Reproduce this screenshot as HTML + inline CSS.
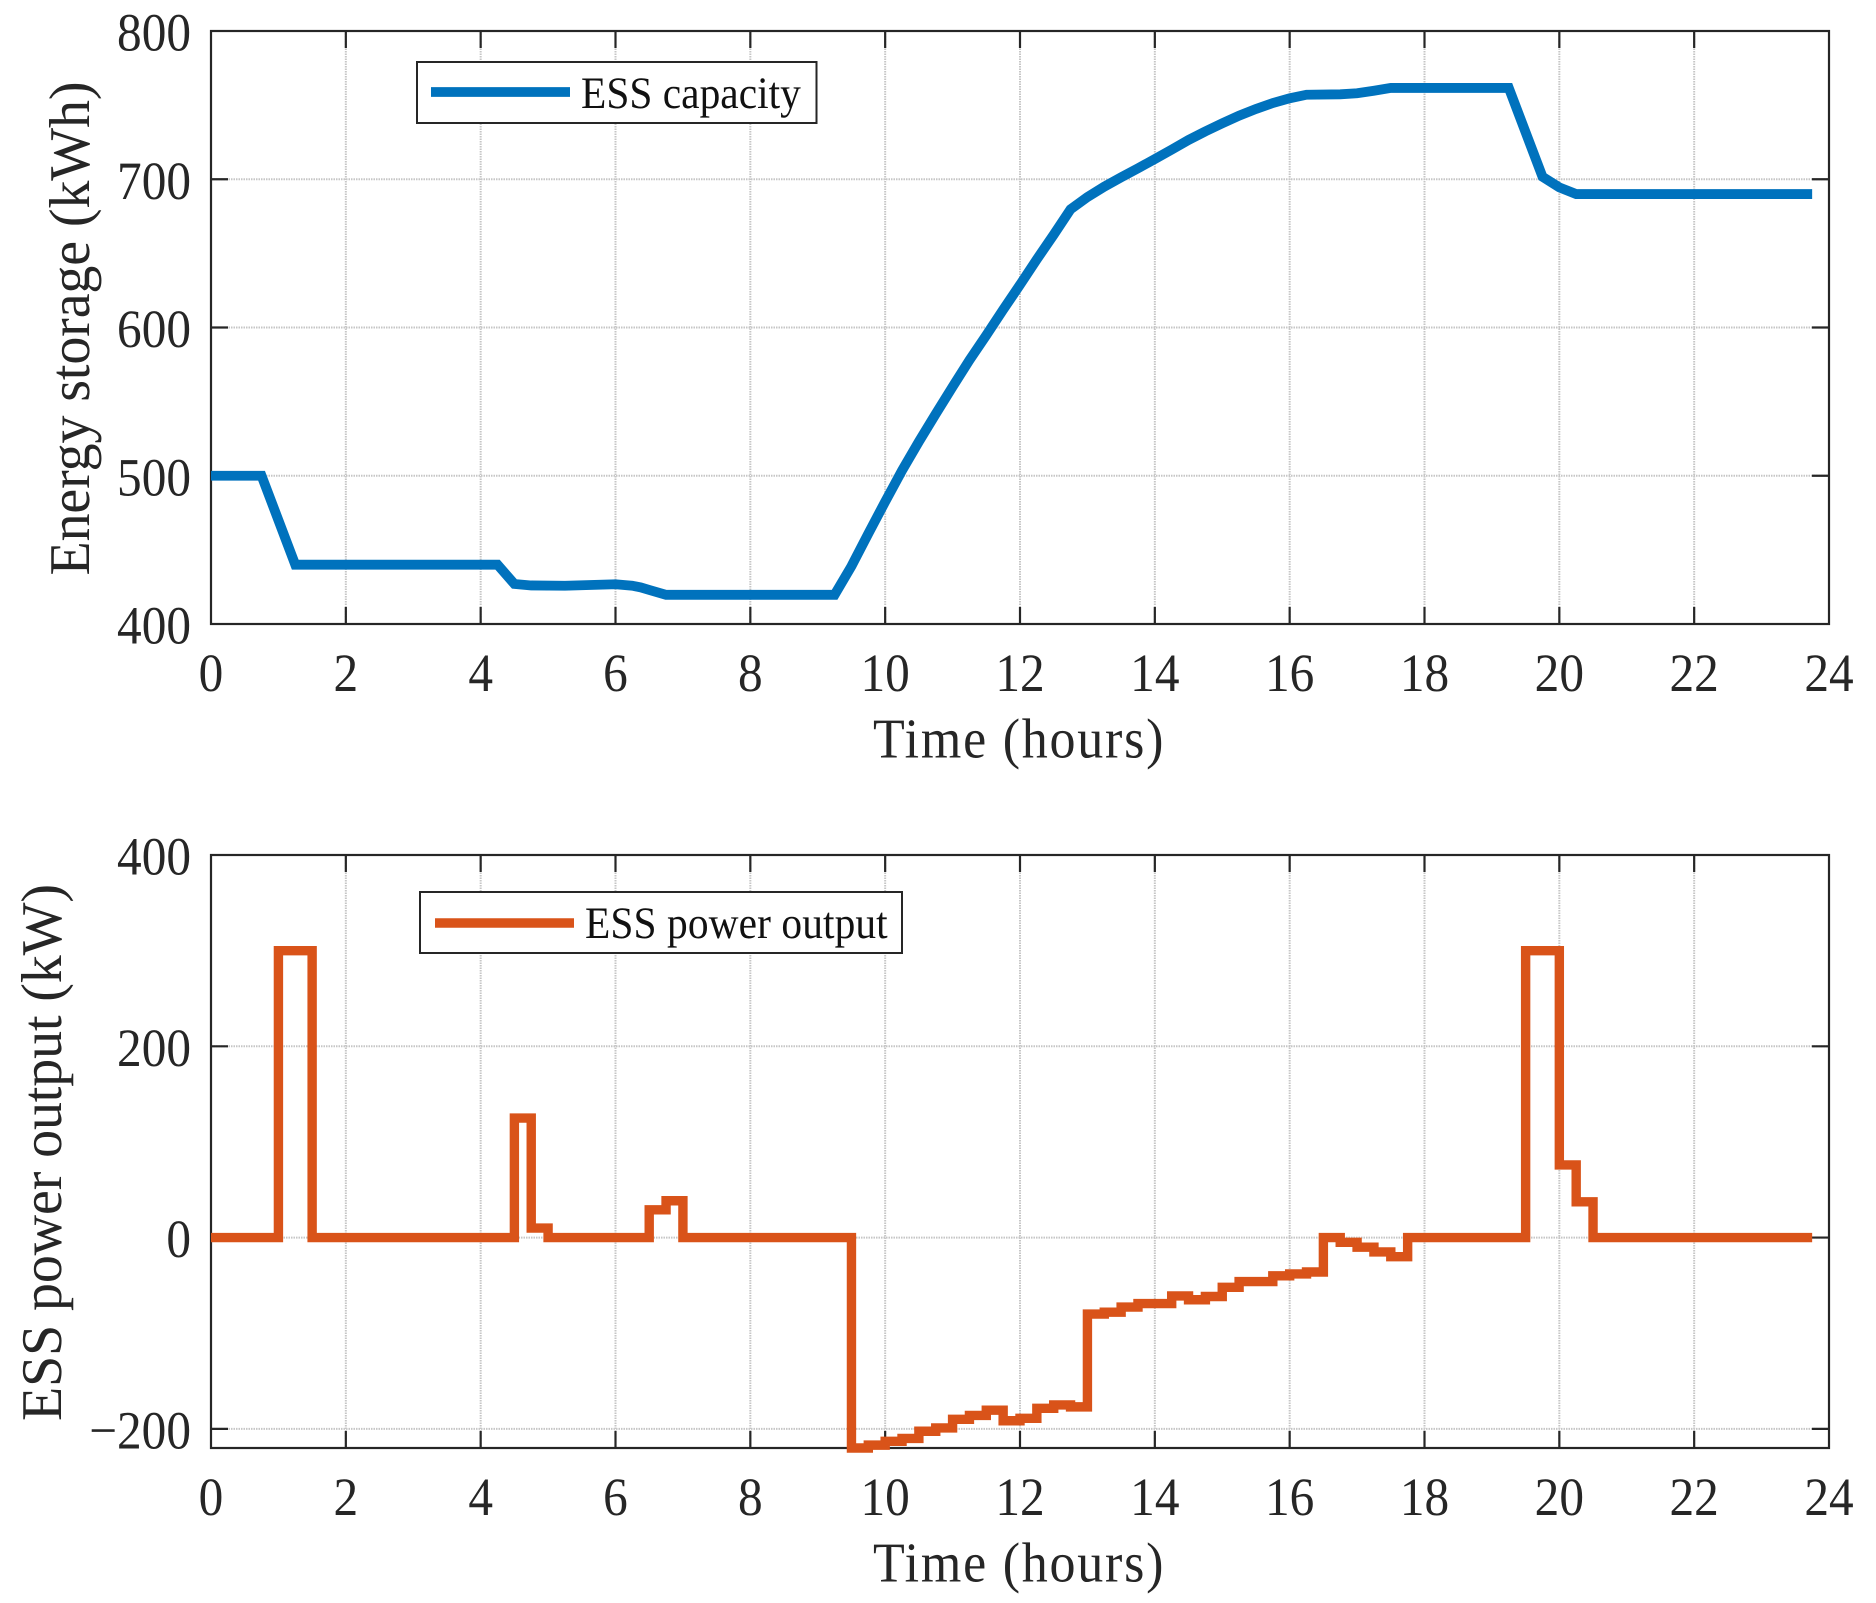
<!DOCTYPE html>
<html lang="en">
<head>
<meta charset="utf-8">
<title>ESS capacity and power output</title>
<style>
html,body{margin:0;padding:0;background:#fff;width:1876px;height:1603px;overflow:hidden}
svg{display:block}
text{font-family:"Liberation Serif",serif;fill:#262626;text-rendering:geometricPrecision}
.tick{font-size:54px}
.title{font-size:56.4px}
.ylab{font-size:56px}
.leg{font-size:45px;fill:#111}
</style>
</head>
<body>
<svg id="figure" xmlns="http://www.w3.org/2000/svg" width="1876" height="1603" viewBox="0 0 1876 1603">
  <rect x="0" y="0" width="1876" height="1603" fill="#fff"/>

  <g id="top-chart">
    <g id="top-grid"></g>
    <g id="top-ticks"></g>
    <rect x="211" y="31" width="1618" height="593" fill="none" stroke="#262626" stroke-width="2.2"/>
    <polyline id="capacity-line" fill="none" stroke="#0072BD" stroke-width="9.8" stroke-linejoin="miter"/>
    <text class="title" transform="translate(873 757.5) scale(0.922 1)" textLength="315" lengthAdjust="spacing">Time (hours)</text>
    <text class="ylab" transform="translate(89 575.5) rotate(-90) scale(1 1.03)" textLength="494" lengthAdjust="spacing">Energy storage (kWh)</text>
    <g>
      <rect x="417" y="62" width="399.5" height="61" fill="#fff" stroke="#262626" stroke-width="2"/>
      <line x1="431" y1="92" x2="570" y2="92" stroke="#0072BD" stroke-width="9.8"/>
      <text class="leg" transform="translate(581 108) scale(0.92 1)" textLength="239" lengthAdjust="spacing">ESS capacity</text>
    </g>
  </g>

  <g id="bottom-chart">
    <g id="bottom-grid"></g>
    <g id="bottom-ticks"></g>
    <rect x="211" y="855" width="1618" height="593" fill="none" stroke="#262626" stroke-width="2.2"/>
    <polyline id="power-line" fill="none" stroke="#D95319" stroke-width="9.4" stroke-linejoin="miter"/>
    <text class="title" transform="translate(873 1581.5) scale(0.922 1)" textLength="315" lengthAdjust="spacing">Time (hours)</text>
    <text class="ylab" transform="translate(61 1421) rotate(-90) scale(1 1.03)" textLength="537" lengthAdjust="spacing">ESS power output (kW)</text>
    <g>
      <rect x="420" y="892" width="482" height="61" fill="#fff" stroke="#262626" stroke-width="2"/>
      <line x1="435" y1="923" x2="574" y2="923" stroke="#D95319" stroke-width="9.4"/>
      <text class="leg" transform="translate(585 938) scale(0.92 1)" textLength="329" lengthAdjust="spacing">ESS power output</text>
    </g>
  </g>
</svg>

<script>
// Shared x axis ticks
var hourTicks = [0, 2, 4, 6, 8, 10, 12, 14, 16, 18, 20, 22, 24];

// Top chart: energy storage (kWh)
var energyTicks = [400, 500, 600, 700, 800];
var energyTickLabels = ["400", "500", "600", "700", "800"];
var capacityHours = [0, 0.75, 1.25, 4.25, 4.5, 4.75, 5.25, 6, 6.25, 6.375, 6.5, 6.75, 9.25, 9.5, 9.75, 10, 10.25, 10.5, 10.75, 11, 11.25, 11.5, 11.75, 12, 12.25, 12.5, 12.75, 13, 13.25, 13.5, 13.75, 14, 14.25, 14.5, 14.75, 15, 15.25, 15.5, 15.75, 16, 16.25, 16.75, 17, 17.25, 17.5, 19.25, 19.75, 20, 20.25, 23.75];
var capacityValues = [500, 500, 440, 440, 427, 426, 425.8, 426.8, 425.8, 424.7, 423, 419.7, 419.7, 439, 461, 482.5, 503.5, 523, 541.7, 560, 578, 594.8, 612, 628.8, 646, 662.6, 679.7, 688, 695, 701.3, 707.4, 713.6, 720, 726.5, 732.3, 737.7, 742.9, 747.4, 751.4, 754.6, 757, 757.3, 758, 759.7, 761.6, 761.6, 701.7, 694.5, 690, 690];

// Bottom chart: ESS power output (kW), each value holds from its start hour to the next one
var powerTicks = [-200, 0, 200, 400];
var powerTickLabels = ["\u2212200", "0", "200", "400"];
var powerStartHours = [0, 1, 1.5, 4.5, 4.75, 5, 6.5, 6.75, 7, 9.5, 9.75, 10, 10.25, 10.5, 10.75, 11, 11.25, 11.5, 11.75, 12, 12.25, 12.5, 12.75, 13, 13.25, 13.5, 13.75, 14, 14.25, 14.5, 14.75, 15, 15.25, 15.5, 15.75, 16, 16.25, 16.5, 16.75, 17, 17.25, 17.5, 17.75, 19.5, 20, 20.25, 20.5, 23.75];
var powerValues = [0, 300, 0, 125, 10, 0, 29, 38.5, 0, -220, -217, -213, -210, -202.5, -199, -190, -186, -180.5, -191.5, -189, -178.5, -175, -177, -80, -78, -72.7, -69, -69, -61, -65, -61.6, -52, -46, -46, -40, -38, -36, 0, -5, -10, -15, -20, 0, 300, 76, 37.4, 0, 0];

var SVG_NS = "http://www.w3.org/2000/svg";

function scaleX(hour) {
  return 211 + (hour / 24) * 1618;
}
function scaleEnergy(v) {
  return 624 - ((v - 400) / 400) * 593;
}
function scalePower(v) {
  return 1448 - ((v + 220) / 620) * 593;
}

function addLine(parent, x1, y1, x2, y2, stroke, width, dash) {
  var el = document.createElementNS(SVG_NS, "line");
  el.setAttribute("x1", x1);
  el.setAttribute("y1", y1);
  el.setAttribute("x2", x2);
  el.setAttribute("y2", y2);
  el.setAttribute("stroke", stroke);
  el.setAttribute("stroke-width", width);
  if (dash) el.setAttribute("stroke-dasharray", dash);
  parent.appendChild(el);
  return el;
}

function addText(parent, x, y, anchor, content) {
  var el = document.createElementNS(SVG_NS, "text");
  el.setAttribute("transform", "translate(" + x + " " + y + ") scale(0.913 1)");
  el.setAttribute("text-anchor", anchor);
  el.setAttribute("class", "tick");
  el.textContent = content;
  parent.appendChild(el);
  return el;
}

function drawAxes(gridId, ticksId, top, bottom, yTicks, yLabels, yScale, xLabelBaseline) {
  var grid = document.getElementById(gridId);
  var ticks = document.getElementById(ticksId);
  var left = 211, right = 1829, tickLen = 17;

  hourTicks.forEach(function (h) {
    var x = scaleX(h);
    if (h > 0 && h < 24) {
      var gx = addLine(grid, x, top, x, bottom, "#c6c6c6", 2, "1.5 1");
      
      
      var t1 = addLine(ticks, x, bottom, x, bottom - tickLen, "#262626", 2.2);
      
      
      var t2 = addLine(ticks, x, top, x, top + tickLen, "#262626", 2.2);
      
      
    }
    var label = addText(ticks, x, xLabelBaseline, "middle", String(h));
    
    
  });

  yTicks.forEach(function (v, i) {
    var y = yScale(v);
    if (y > top + 1 && y < bottom - 1) {
      var gy = addLine(grid, left, y, right, y, "#c6c6c6", 2, "1.5 1");
      
      
      var t3 = addLine(ticks, left, y, left + tickLen, y, "#262626", 2.2);
      
      
      var t4 = addLine(ticks, right, y, right - tickLen, y, "#262626", 2.2);
      
      
    }
    var label = addText(ticks, 191, y + 19.5, "end", yLabels[i]);
    
    
  });
}

drawAxes("top-grid", "top-ticks", 31, 624, energyTicks, energyTickLabels, scaleEnergy, 691);
drawAxes("bottom-grid", "bottom-ticks", 855, 1448, powerTicks, powerTickLabels, scalePower, 1515);

// Capacity trace: straight segments through the readings
var capacityPoints = capacityHours.map(function (h, i) {
  return scaleX(h).toFixed(2) + "," + scaleEnergy(capacityValues[i]).toFixed(2);
});
document.getElementById("capacity-line").setAttribute("points", capacityPoints.join(" "));

// Power trace: hold each value until the next start hour
var powerPoints = [];
powerStartHours.forEach(function (h, i) {
  if (i > 0) {
    powerPoints.push(scaleX(h).toFixed(2) + "," + scalePower(powerValues[i - 1]).toFixed(2));
  }
  powerPoints.push(scaleX(h).toFixed(2) + "," + scalePower(powerValues[i]).toFixed(2));
});
document.getElementById("power-line").setAttribute("points", powerPoints.join(" "));
</script>
</body>
</html>
